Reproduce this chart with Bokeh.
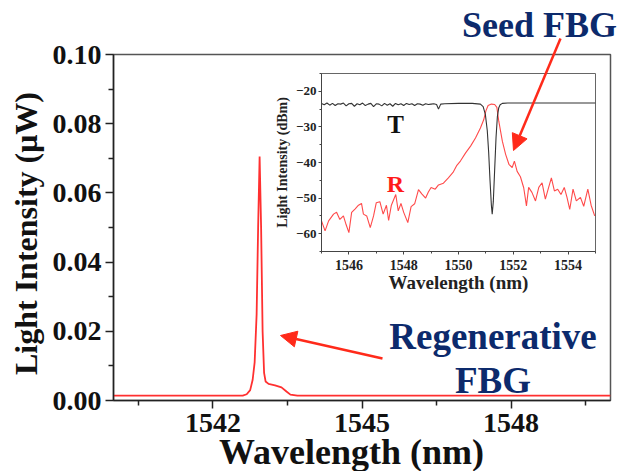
import math
from bokeh.plotting import figure
from bokeh.models import (FixedTicker, PrintfTickFormatter, Label, Arrow, NormalHead, Range1d)
from bokeh.embed import file_html
from bokeh.resources import INLINE

# ---------------- data ----------------
# main spectrum (regenerative FBG)
m_wl = [1540.0, 1542.6, 1542.68, 1542.75, 1542.8, 1542.84, 1542.88, 1542.91, 1542.94,
        1542.97, 1543.0, 1543.03, 1543.06, 1543.12, 1543.25, 1543.38, 1543.48, 1543.56,
        1543.7, 1550.0]
m_uw = [0.0014, 0.0014, 0.0018, 0.003, 0.006, 0.011, 0.025, 0.05, 0.0705,
        0.05, 0.02, 0.008, 0.0055, 0.0048, 0.0044, 0.0038, 0.0026, 0.0017,
        0.0014, 0.0014]

# inset: transmission (T) of seed FBG
t_wl = [1545.0, 1545.1, 1545.2, 1545.3, 1545.4, 1545.5, 1545.6, 1545.7, 1545.8, 1545.9,
        1546.0, 1546.1, 1546.2, 1546.3, 1546.4, 1546.5, 1546.6, 1546.7, 1546.8, 1546.9,
        1547.0, 1547.1, 1547.2, 1547.3, 1547.4, 1547.5, 1547.6, 1547.7, 1547.8, 1547.9,
        1548.0, 1548.1, 1548.2, 1548.3, 1548.4, 1548.5, 1548.6, 1548.7, 1548.8, 1548.9,
        1549.0, 1549.1, 1549.2, 1549.27, 1549.35, 1549.5, 1550.0, 1550.5, 1550.8, 1550.9,
        1550.98, 1551.05, 1551.1, 1551.15, 1551.2, 1551.23, 1551.27, 1551.32, 1551.37, 1551.42,
        1551.47, 1551.52, 1551.6, 1551.8, 1552.5, 1553.5, 1555.0]
t_db = [-23.4, -23.8, -23.3, -23.9, -23.4, -24.0, -23.5, -23.6, -23.3, -24.1,
        -23.5, -23.4, -24.2, -23.5, -23.8, -23.3, -24.0, -23.6, -23.4, -24.3,
        -23.5, -23.6, -24.1, -23.4, -23.9, -23.5, -24.2, -23.4, -23.8, -23.5,
        -24.0, -23.4, -23.7, -23.5, -24.0, -23.5, -23.6, -23.9, -23.5, -23.7,
        -23.6, -23.5, -23.7, -25.0, -23.6, -23.5, -23.4, -23.4, -23.6, -24.3,
        -26.5, -31.0, -37.0, -45.0, -52.0, -54.5, -51.0, -42.0, -33.0, -27.0,
        -24.6, -23.8, -23.4, -23.3, -23.3, -23.3, -23.3]

# inset: reflection (R) of seed FBG
r_wl = [1545.0, 1545.13, 1545.26, 1545.44, 1545.55, 1545.67, 1545.8, 1545.9, 1546.0, 1546.1,
        1546.23, 1546.35, 1546.46, 1546.53, 1546.65, 1546.78, 1546.9, 1547.0, 1547.13, 1547.25,
        1547.37, 1547.45, 1547.55, 1547.71, 1547.8, 1547.9, 1548.0, 1548.15, 1548.27, 1548.4,
        1548.54, 1548.66, 1548.8, 1548.9, 1549.0, 1549.15, 1549.27, 1549.45, 1549.63, 1549.8,
        1549.94, 1550.07, 1550.26, 1550.44, 1550.62, 1550.8, 1550.92, 1551.0, 1551.08, 1551.2,
        1551.32, 1551.4, 1551.47, 1551.6, 1551.72, 1551.84, 1551.96, 1552.04, 1552.14, 1552.26,
        1552.38, 1552.48, 1552.56, 1552.68, 1552.81, 1552.93, 1553.05, 1553.17, 1553.29, 1553.39,
        1553.5, 1553.62, 1553.74, 1553.86, 1553.96, 1554.06, 1554.18, 1554.3, 1554.45, 1554.57,
        1554.72, 1554.84, 1554.97]
r_db = [-56.4, -59.2, -56.4, -54.5, -54.0, -56.0, -55.0, -57.5, -59.7, -54.0,
        -53.0, -52.0, -51.5, -54.5, -55.0, -58.3, -55.0, -51.3, -51.0, -54.5,
        -52.0, -56.3, -52.0, -49.0, -53.6, -51.5, -54.0, -56.9, -52.4, -51.6,
        -47.6, -48.8, -50.0, -48.3, -47.0, -47.5, -46.3, -45.8, -44.3, -42.8,
        -40.8, -39.6, -37.3, -35.4, -33.1, -30.3, -28.0, -25.5, -24.0, -23.6,
        -23.7, -24.5, -28.4, -34.0, -37.7, -40.5, -41.4, -39.6, -42.5, -44.0,
        -47.1, -52.2, -47.0, -48.4, -50.8, -47.0, -45.7, -50.3, -47.0, -44.3,
        -48.0, -47.5, -49.0, -47.0, -49.8, -53.2, -47.5, -50.8, -49.8, -52.3,
        -47.5, -52.0, -55.0]

main_xticks = [1542, 1545, 1548]
main_xminor = [1540.5, 1543.5, 1546.5, 1549.5]
main_yticks = [0.0, 0.02, 0.04, 0.06, 0.08, 0.10]
main_yminor = [0.01, 0.03, 0.05, 0.07, 0.09]
ins_xticks = [1546, 1548, 1550, 1552, 1554]
ins_xminor = [1545, 1547, 1549, 1551, 1553, 1555]
ins_yticks = [-60, -50, -40, -30, -20]
ins_yminor = [-65, -55, -45, -35, -25, -15]

FONT = "Liberation Serif"
NAVY = "#0c2a6c"
RED = "#ff2a1a"
W, H = 623, 471

# ---------------- main figure ----------------
p = figure(width=W, height=H, x_range=(1540, 1550), y_range=(0, 0.1),
           output_backend="svg", toolbar_location=None,
           min_border_left=113, min_border_right=13, min_border_top=54, min_border_bottom=71)
p.background_fill_color = "white"
p.border_fill_color = "white"
p.outline_line_color = "#555555"
p.outline_line_width = 1.5
p.grid.visible = False

p.line(m_wl, m_uw, line_color="#ff3030", line_width=1.8)

for ax in (p.xaxis[0], p.yaxis[0]):
    ax.axis_line_color = "#222222"
    ax.axis_line_width = 1.5
    ax.major_tick_line_color = "#222222"
    ax.minor_tick_line_color = "#222222"
    ax.major_tick_line_width = 1.5
    ax.minor_tick_line_width = 1.5
    ax.major_tick_out = 8
    ax.major_tick_in = 0
    ax.minor_tick_out = 5
    ax.minor_tick_in = 0
    ax.major_label_text_font = FONT
    ax.major_label_text_font_style = "bold"
    ax.major_label_text_font_size = "28px"
    ax.major_label_text_color = "#111111"

p.xaxis[0].ticker = FixedTicker(ticks=main_xticks, minor_ticks=main_xminor)
p.yaxis[0].ticker = FixedTicker(ticks=main_yticks, minor_ticks=main_yminor)
p.yaxis[0].formatter = PrintfTickFormatter(format="%.2f")
p.xaxis[0].major_label_standoff = 5
p.yaxis[0].major_label_standoff = 4

# ---------------- inset (absolutely positioned over the main plot) ----------------
ins = figure(width=345, height=267, x_range=(1545, 1555), y_range=(-65, -15),
             output_backend="svg", toolbar_location=None,
             min_border_left=59, min_border_right=12, min_border_top=43, min_border_bottom=46)
ins.background_fill_color = None
ins.border_fill_color = None
ins.outline_line_color = "#666666"
ins.outline_line_width = 1
ins.grid.visible = False

ins.line(r_wl, r_db, line_color="#ff4a4a", line_width=1.1)
ins.line(t_wl, t_db, line_color="#333333", line_width=1.1)

for ax in (ins.xaxis[0], ins.yaxis[0]):
    ax.axis_line_color = "#444444"
    ax.major_tick_line_color = "#444444"
    ax.minor_tick_line_color = "#444444"
    ax.major_tick_out = 3
    ax.major_tick_in = 0
    ax.minor_tick_out = 2
    ax.minor_tick_in = 0
    ax.major_label_text_font = FONT
    ax.major_label_text_font_style = "bold"
    ax.major_label_text_color = "#222222"
    ax.axis_label_text_font = FONT
    ax.axis_label_text_font_style = "bold"
    ax.axis_label_text_color = "#222222"

ins.xaxis[0].ticker = FixedTicker(ticks=ins_xticks, minor_ticks=ins_xminor)
ins.yaxis[0].ticker = FixedTicker(ticks=ins_yticks, minor_ticks=ins_yminor)
ins.xaxis[0].major_label_text_font_size = "14px"
ins.yaxis[0].major_label_text_font_size = "13px"
ins.xaxis[0].major_label_standoff = 5
ins.yaxis[0].major_label_standoff = 2
ins.xaxis[0].axis_label = "Wavelength (nm)"
ins.xaxis[0].axis_label_text_font_size = "19px"
ins.xaxis[0].axis_label_standoff = -1
ins.yaxis[0].axis_label = "Light Intensity (dBm)"
ins.yaxis[0].axis_label_text_font_size = "14px"
ins.yaxis[0].axis_label_standoff = 3

ins.add_layout(Label(x=1547.7, y=-29.3, text="T", text_font=FONT, text_font_style="bold",
                     text_font_size="25px", text_color="#111111",
                     text_align="center", text_baseline="middle"))
ins.add_layout(Label(x=1547.7, y=-45.9, text="R", text_font=FONT, text_font_style="bold",
                     text_font_size="24px", text_color="#ff1a1a",
                     text_align="center", text_baseline="middle"))
ins.styles = {"position": "absolute", "left": "262px", "top": "30px"}

# ---------------- transparent overlay for titles / annotations (pixel positions) ----
ov = figure(width=W, height=H, x_range=Range1d(0, W), y_range=Range1d(H, 0),
            x_axis_type=None, y_axis_type=None, output_backend="svg",
            toolbar_location=None, min_border=0)
ov.min_border_left = ov.min_border_right = ov.min_border_top = ov.min_border_bottom = 0
ov.outline_line_color = None
ov.background_fill_color = None
ov.border_fill_color = None
ov.grid.visible = False
ov.styles = {"position": "absolute", "left": "0px", "top": "0px"}

def lab(x, y, text, size, color="#111111", angle=0.0):
    ov.add_layout(Label(x=x, y=y, text=text, angle=angle, text_font=FONT,
                        text_font_style="bold", text_font_size=size, text_color=color,
                        text_align="center", text_baseline="middle"))

lab(25, 233, "Light Intensity (\u03bcW)", "32px", angle=math.pi / 2)
lab(351, 451, "Wavelength (nm)", "36px")
lab(539, 24.5, "Seed FBG", "36px", NAVY)
lab(492.5, 336, "Regenerative", "37px", NAVY)
lab(492.5, 380, "FBG", "37px", NAVY)
ov.add_layout(Arrow(end=NormalHead(size=16, fill_color=RED, line_color=RED),
                    x_start=560, y_start=38, x_end=513, y_end=150,
                    line_color=RED, line_width=2.5))
ov.add_layout(Arrow(end=NormalHead(size=16, fill_color=RED, line_color=RED),
                    x_start=382, y_start=358, x_end=280, y_end=335,
                    line_color=RED, line_width=2.5))

open("out.html", "w").write(file_html([p, ins, ov], INLINE))
